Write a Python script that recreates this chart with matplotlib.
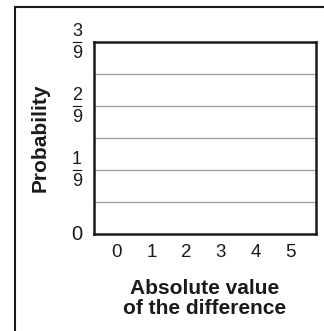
import matplotlib
matplotlib.use("Agg")
import matplotlib.pyplot as plt
from matplotlib import transforms
from matplotlib.patches import Rectangle
from matplotlib.lines import Line2D

# Data
categories = [0, 1, 2, 3, 4, 5]
prob_ticks = [0, 1/9, 2/9, 3/9]
prob_numerators = ["0", "1", "2", "3"]
prob_denominators = [None, "9", "9", "9"]
grid_levels = [1/18, 2/18, 3/18, 4/18, 5/18]
x_label = "Absolute value\nof the difference"
y_label = "Probability"

plt.rcParams['font.family'] = ['Liberation Sans', 'DejaVu Sans']

W, H = 324, 331
fig = plt.figure(figsize=(W/100, H/100), dpi=100)

# axes placement in pixels
L, R, T, B = 94, 316, 42, 234
ax = fig.add_axes([L/W, 1 - B/H, (R-L)/W, (B-T)/H])
ax.set_xlim(-0.66, 5.75)
ax.set_ylim(0, 3/9)

for g in grid_levels:
    ax.axhline(g, color='#a0a0a0', lw=1.0, zorder=1)

for s in ax.spines.values():
    s.set_linewidth(1.8)
    s.set_color('#1a1a1a')

ax.set_xticks(categories)
ax.set_xticklabels([str(c) for c in categories], fontsize=13.5, color='#1a1a1a')
ax.tick_params(axis='x', length=0, pad=7)
ax.set_yticks(prob_ticks)
ax.set_yticklabels([])
ax.tick_params(axis='y', length=0)

trans = transforms.blended_transform_factory(ax.transAxes, ax.transData)
xf = (77 - L) / (R - L)
for y, num, den in zip(prob_ticks, prob_numerators, prob_denominators):
    if den is None:
        ax.text(xf, y, num, transform=trans, ha='center', va='center',
                fontsize=14.5, color='#1a1a1a', clip_on=False)
    else:
        t_up = transforms.offset_copy(trans, fig=fig, x=0, y=10.5, units='dots')
        t_dn = transforms.offset_copy(trans, fig=fig, x=0, y=-11.5, units='dots')
        ax.text(xf, y, num, transform=t_up, ha='center', va='center',
                fontsize=13, color='#1a1a1a', clip_on=False)
        ax.text(xf, y, den, transform=t_dn, ha='center', va='center',
                fontsize=13, color='#1a1a1a', clip_on=False)
        half = 4 / (R - L)
        ax.add_line(Line2D([xf - half, xf + half], [y, y], transform=trans,
                           color='#1a1a1a', lw=0.9, clip_on=False))

fig.text(205/W, 1 - 298.5/H, x_label, ha='center', va='center',
         fontsize=15, fontweight='bold', color='#1a1a1a', linespacing=1.1)
fig.text(40/W, 1 - 138/H, y_label, ha='center', va='center', rotation=90,
         fontsize=15, fontweight='bold', color='#1a1a1a')

# outer frame (left and top visible)
fig.add_artist(Rectangle((15/W, -0.1), 1.2, 1 - 7/H + 0.1,
                         transform=fig.transFigure, fill=False,
                         lw=1.5, edgecolor='#1a1a1a'))

fig.savefig('out.png', dpi=100)
